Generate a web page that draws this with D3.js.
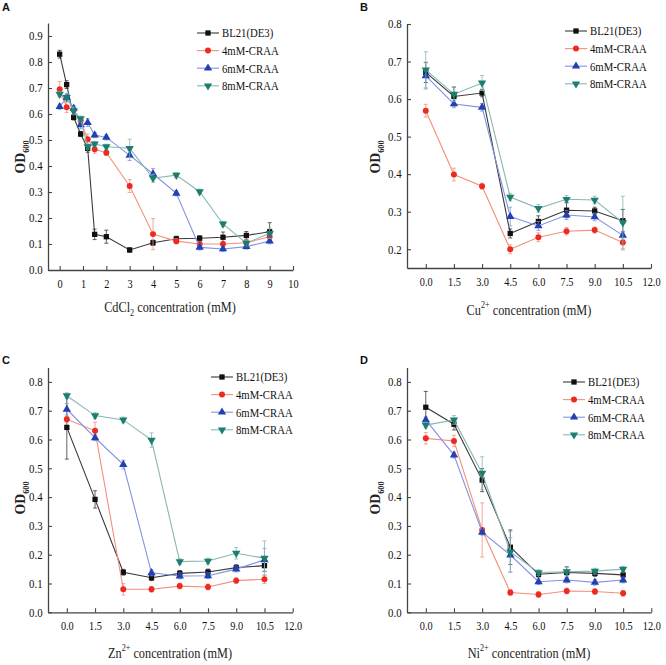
<!DOCTYPE html>
<html><head><meta charset="utf-8">
<script src="https://cdn.jsdelivr.net/npm/d3@7"></script>
<style>body{margin:0;background:#fff}svg{display:block}</style>
</head><body>
<svg id="c" width="666" height="665"></svg>
<script>
// ---------- data ----------
const seriesNames = ["BL21(DE3)", "4mM-CRAA", "6mM-CRAA", "8mM-CRAA"];

// Panel A : CdCl2
const xA = [0, 0.3, 0.6, 0.9, 1.2, 1.5, 2, 3, 4, 5, 6, 7, 8, 9];
const aBL21  = [0.83, 0.713, 0.587, 0.523, 0.468, 0.137, 0.128, 0.077, 0.105, 0.120, 0.122, 0.126, 0.133, 0.147];
const aCRAA4 = [0.695, 0.626, 0.615, 0.574, 0.503, 0.464, 0.451, 0.323, 0.138, 0.111, 0.100, 0.100, 0.105, 0.128];
const aCRAA6 = [0.628, 0.664, 0.622, 0.558, 0.567, 0.519, 0.510, 0.441, 0.370, 0.295, 0.087, 0.081, 0.090, 0.111];
const aCRAA8 = [0.676, 0.664, 0.612, 0.582, 0.474, 0.485, 0.474, 0.468, 0.353, 0.365, 0.301, 0.177, 0.103, 0.141];
const aBL21Err  = [0.015, 0.015, 0.01, 0.01, 0.015, 0.02, 0.025, 0.008, 0.01, 0.01, 0.01, 0.02, 0.015, 0.035];
const aCRAA4Err = [0.03, 0.02, 0.01, 0.01, 0.02, 0.015, 0.01, 0.025, 0.06, 0.01, 0.01, 0.01, 0.01, 0.01];
const aCRAA6Err = [0.01, 0.01, 0.01, 0.015, 0.015, 0.01, 0.01, 0.02, 0.02, 0.01, 0.01, 0.01, 0.01, 0.01];
const aCRAA8Err = [0.01, 0.015, 0.015, 0.01, 0.01, 0.01, 0.01, 0.035, 0.015, 0.01, 0.01, 0.01, 0.01, 0.02];

// Panels B, C, D share concentrations
const xMetal = [0, 1.5, 3, 4.5, 6, 7.5, 9, 10.5];

// Panel B : Cu2+
const bBL21  = [0.671, 0.607, 0.616, 0.242, 0.274, 0.304, 0.302, 0.276];
const bCRAA4 = [0.569, 0.399, 0.368, 0.200, 0.232, 0.248, 0.251, 0.218];
const bCRAA6 = [0.662, 0.587, 0.578, 0.287, 0.262, 0.291, 0.286, 0.237];
const bCRAA8 = [0.678, 0.613, 0.643, 0.339, 0.309, 0.333, 0.331, 0.271];
const bBL21Err  = [0.027, 0.025, 0.01, 0.012, 0.015, 0.02, 0.01, 0.03];
const bCRAA4Err = [0.017, 0.017, 0.008, 0.012, 0.012, 0.01, 0.008, 0.02];
const bCRAA6Err = [0.035, 0.01, 0.01, 0.025, 0.012, 0.012, 0.01, 0.01];
const bCRAA8Err = [0.048, 0.02, 0.02, 0.01, 0.01, 0.01, 0.01, 0.07];

// Panel C : Zn2+
const cBL21  = [0.642, 0.392, 0.139, 0.120, 0.135, 0.140, 0.155, 0.162];
const cCRAA4 = [0.670, 0.630, 0.080, 0.080, 0.091, 0.088, 0.110, 0.115];
const cCRAA6 = [0.705, 0.606, 0.513, 0.137, 0.126, 0.127, 0.150, 0.182];
const cCRAA8 = [0.752, 0.683, 0.668, 0.598, 0.176, 0.178, 0.205, 0.188];
const cBL21Err  = [0.11, 0.03, 0.01, 0.01, 0.01, 0.01, 0.01, 0.02];
const cCRAA4Err = [0.01, 0.03, 0.02, 0.01, 0.01, 0.01, 0.01, 0.015];
const cCRAA6Err = [0.02, 0.01, 0.015, 0.01, 0.01, 0.01, 0.01, 0.04];
const cCRAA8Err = [0.01, 0.01, 0.01, 0.025, 0.01, 0.01, 0.02, 0.06];

// Panel D : Ni2+
const dBL21  = [0.712, 0.653, 0.459, 0.226, 0.132, 0.138, 0.135, 0.130];
const dCRAA4 = [0.604, 0.595, 0.286, 0.069, 0.062, 0.074, 0.072, 0.066];
const dCRAA6 = [0.668, 0.546, 0.278, 0.199, 0.106, 0.112, 0.104, 0.112];
const dCRAA8 = [0.650, 0.668, 0.483, 0.210, 0.138, 0.141, 0.143, 0.150];
const dBL21Err  = [0.055, 0.02, 0.04, 0.06, 0.01, 0.02, 0.01, 0.01];
const dCRAA4Err = [0.02, 0.02, 0.094, 0.01, 0.01, 0.01, 0.01, 0.01];
const dCRAA6Err = [0.01, 0.01, 0.01, 0.06, 0.01, 0.01, 0.01, 0.01];
const dCRAA8Err = [0.01, 0.015, 0.057, 0.07, 0.01, 0.015, 0.01, 0.01];

// tick values
const xTicksA = [0, 1, 2, 3, 4, 5, 6, 7, 8, 9, 10];
const yTicksA = [0, 0.1, 0.2, 0.3, 0.4, 0.5, 0.6, 0.7, 0.8, 0.9];
const xTicksMetal = [0, 1.5, 3, 4.5, 6, 7.5, 9, 10.5, 12];
const yTicksB = [0.2, 0.3, 0.4, 0.5, 0.6, 0.7, 0.8];
const yTicksCD = [0, 0.1, 0.2, 0.3, 0.4, 0.5, 0.6, 0.7, 0.8];

// ---------- styling ----------
const markerColors = ["#111111", "#ec2a22", "#2340b0", "#1d7d6e"];
const lineColors   = ["#3a3a3a", "#f4907a", "#8392e2", "#86b8b4"];
const serif = "Liberation Serif";

const svg = d3.select("#c");

function markerPath(i) {
  if (i >= 2) return d3.symbol().type(d3.symbolTriangle).size(30)();
  if (i === 1) return d3.symbol().type(d3.symbolCircle).size(28)();
  return d3.symbol().type(d3.symbolSquare).size(28)();
}
function markerRot(i) { return i === 3 ? " rotate(180)" : ""; }

const panels = [
  { letter: "A", lx: 2, ly: 11, xs: xA, ys: [aBL21, aCRAA4, aCRAA6, aCRAA8], es: [aBL21Err, aCRAA4Err, aCRAA6Err, aCRAA8Err],
    xDom: [-0.5, 10], xRng: [48, 293], yDom: [0, 0.95], yRng: [270, 23], xt: xTicksA, yt: yTicksA, xf: d3.format("d"),
    label: ["CdCl", "2", "sub", " concentration (mM)"], labX: 170, labY: 312, odX: 25, odY: 157,
    legX: 197, legY: 33 },
  { letter: "B", lx: 360, ly: 11, xs: xMetal, ys: [bBL21, bCRAA4, bCRAA6, bCRAA8], es: [bBL21Err, bCRAA4Err, bCRAA6Err, bCRAA8Err],
    xDom: [-1, 12], xRng: [407, 651], yDom: [0.15, 0.8], yRng: [268, 24], xt: xTicksMetal, yt: yTicksB, xf: d3.format(".1f"),
    label: ["Cu", "2+", "sup", " concentration (mM)"], labX: 529, labY: 315, odX: 380, odY: 157,
    legX: 565, legY: 31 },
  { letter: "C", lx: 2, ly: 364, xs: xMetal, ys: [cBL21, cCRAA4, cCRAA6, cCRAA8], es: [cBL21Err, cCRAA4Err, cCRAA6Err, cCRAA8Err],
    xDom: [-1, 12], xRng: [48, 292.7], yDom: [0, 0.85], yRng: [612.3, 367.5], xt: xTicksMetal, yt: yTicksCD, xf: d3.format(".1f"),
    label: ["Zn", "2+", "sup", " concentration (mM)"], labX: 170, labY: 658, odX: 25, odY: 498,
    legX: 211, legY: 377 },
  { letter: "D", lx: 360, ly: 364, xs: xMetal, ys: [dBL21, dCRAA4, dCRAA6, dCRAA8], es: [dBL21Err, dCRAA4Err, dCRAA6Err, dCRAA8Err],
    xDom: [-1, 12], xRng: [407, 651.3], yDom: [0, 0.85], yRng: [612.3, 367.5], xt: xTicksMetal, yt: yTicksCD, xf: d3.format(".1f"),
    label: ["Ni", "2+", "sup", " concentration (mM)"], labX: 529, labY: 658, odX: 380, odY: 498,
    legX: 563, legY: 382 }
];

panels.forEach(p => {
  const x = d3.scaleLinear().domain(p.xDom).range(p.xRng);
  const y = d3.scaleLinear().domain(p.yDom).range(p.yRng);
  const g = svg.append("g");

  // panel letter
  g.append("text").attr("x", p.lx).attr("y", p.ly).text(p.letter)
    .attr("font-family", "Liberation Sans").attr("font-weight", "bold")
    .attr("font-size", 11).attr("fill", "#111");

  // axes
  const xAxis = d3.axisBottom(x).tickValues(p.xt).tickFormat(p.xf)
    .tickSizeInner(-4).tickSizeOuter(0).tickPadding(9);
  const yAxis = d3.axisLeft(y).tickValues(p.yt).tickFormat(d3.format(".1f"))
    .tickSizeInner(-4).tickSizeOuter(0).tickPadding(6);
  const gx = g.append("g").attr("transform", `translate(0,${p.yRng[0]})`).call(xAxis);
  const gy = g.append("g").attr("transform", `translate(${p.xRng[0]},0)`).call(yAxis);
  [gx, gy].forEach(a => {
    a.attr("font-family", serif);
    a.select(".domain").attr("stroke", "#444").attr("stroke-width", 1.3);
    a.selectAll(".tick line").attr("stroke", "#444").attr("stroke-width", 1.1);
    a.selectAll(".tick text").attr("font-family", serif).attr("font-size", 12)
      .attr("fill", "#111");
  });
  gx.selectAll(".tick text").attr("transform", "scale(0.86,1)");
  gy.selectAll(".tick text").attr("transform", "scale(0.9,1)");

  // series
  p.ys.forEach((vals, si) => {
    const pts = p.xs.map((xv, k) => ({ x: xv, y: vals[k], e: p.es[si][k] }));
    const sg = g.append("g");
    // error bars
    const eb = sg.selectAll("g.eb").data(pts).enter().append("g");
    eb.append("line").attr("x1", d => x(d.x)).attr("x2", d => x(d.x))
      .attr("y1", d => y(d.y - d.e)).attr("y2", d => y(d.y + d.e))
      .attr("stroke", lineColors[si]).attr("stroke-width", 0.8);
    eb.append("line").attr("x1", d => x(d.x) - 2).attr("x2", d => x(d.x) + 2)
      .attr("y1", d => y(d.y + d.e)).attr("y2", d => y(d.y + d.e))
      .attr("stroke", lineColors[si]).attr("stroke-width", 0.8);
    eb.append("line").attr("x1", d => x(d.x) - 2).attr("x2", d => x(d.x) + 2)
      .attr("y1", d => y(d.y - d.e)).attr("y2", d => y(d.y - d.e))
      .attr("stroke", lineColors[si]).attr("stroke-width", 0.8);
    // line
    sg.append("path").datum(pts)
      .attr("d", d3.line().x(d => x(d.x)).y(d => y(d.y)))
      .attr("fill", "none").attr("stroke", lineColors[si]).attr("stroke-width", 1.1);
    // markers
    sg.selectAll("path.m").data(pts).enter().append("path").attr("class", "m")
      .attr("d", markerPath(si))
      .attr("transform", d => `translate(${x(d.x)},${y(d.y)})${markerRot(si)}`)
      .attr("fill", markerColors[si]);
  });

  // legend
  seriesNames.forEach((name, si) => {
    const ly = p.legY + si * 17.6;
    const lg = g.append("g");
    lg.append("line").attr("x1", p.legX).attr("x2", p.legX + 22).attr("y1", ly).attr("y2", ly)
      .attr("stroke", lineColors[si]).attr("stroke-width", 1.1);
    lg.append("path").attr("d", markerPath(si))
      .attr("transform", `translate(${p.legX + 11},${ly})${markerRot(si)}`)
      .attr("fill", markerColors[si]);
    lg.append("text").attr("transform", `translate(${p.legX + 25},${ly + 4.3}) scale(0.86,1)`)
      .attr("font-family", serif).attr("font-size", 12.5).attr("fill", "#111").text(name);
  });

  // x label
  const xl = g.append("text")
    .attr("transform", `translate(${p.labX},${p.labY}) scale(0.82,1)`)
    .attr("text-anchor", "middle").attr("font-family", serif).attr("font-size", 15).attr("fill", "#222");
  xl.append("tspan").text(p.label[0]);
  const isSub = p.label[2] === "sub";
  xl.append("tspan").attr("font-size", 10).attr("dy", isSub ? 4 : -7).text(p.label[1]);
  xl.append("tspan").attr("dy", isSub ? -4 : 7).text(p.label[3]);

  // y label OD600
  const yl = g.append("text")
    .attr("transform", `translate(${p.odX},${p.odY}) rotate(-90) scale(0.92,1)`)
    .attr("text-anchor", "middle").attr("font-family", serif).attr("font-weight", "bold")
    .attr("font-size", 15).attr("fill", "#222");
  yl.append("tspan").text("OD");
  yl.append("tspan").attr("font-size", 9).attr("dy", 4).text("600");
});
</script>
</body></html>
